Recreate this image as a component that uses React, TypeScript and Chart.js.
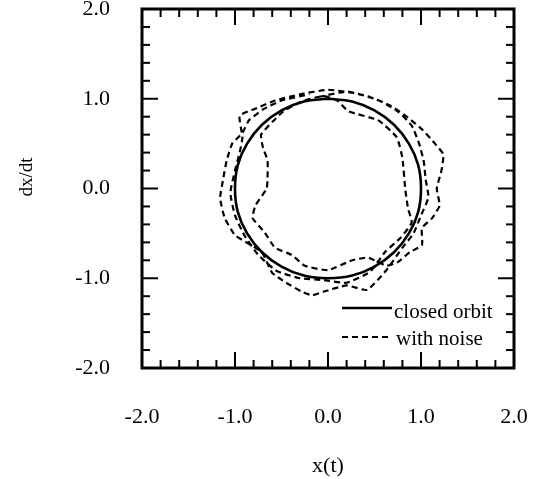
import React, { useEffect, useRef } from "react";
import { Chart, registerables } from "chart.js";
Chart.register(...registerables);

// Closed orbit (solid), clockwise from the top
const orbitX = [0.0, 0.26, 0.5, 0.71, 0.87, 0.97, 1.0, 0.97, 0.87, 0.71, 0.5, 0.26, 0.0, -0.26, -0.5, -0.71, -0.87, -0.97, -1.0, -0.97, -0.87, -0.71, -0.5, -0.26, 0.0];
const orbitY = [1.0, 0.97, 0.87, 0.71, 0.5, 0.26, 0.0, -0.26, -0.5, -0.71, -0.87, -0.97, -1.0, -0.97, -0.87, -0.71, -0.5, -0.26, 0.0, 0.26, 0.5, 0.71, 0.87, 0.97, 1.0];

// Orbit with noise (dashed), three laps
const noiseX = [
  -0.10, 0.20, 0.45, 0.68, 0.86, 1.02, 1.15, 1.24, 1.22, 1.17, 1.20, 1.12, 1.01, 1.01, 0.88, 0.75, 0.63, 0.43, 0.26, 0.00, -0.25, -0.39, -0.57, -0.68, -0.81, -0.78, -0.66, -0.65, -0.65, -0.70, -0.72, -0.60, -0.48, -0.28, -0.05,
  0.10, 0.22, 0.54, 0.74, 0.80, 0.83, 0.86, 0.90, 0.78, 0.62, 0.45, 0.20, -0.05, -0.30, -0.55, -0.75, -0.90, -1.00, -1.05, -1.00, -0.95, -0.92, -0.95, -0.78, -0.57, -0.30, 0.00,
  0.30, 0.55, 0.75, 0.90, 0.98, 1.03, 1.05, 1.08, 1.00, 0.92, 0.80, 0.62, 0.42, 0.20, -0.05, -0.17, -0.28, -0.45, -0.60, -0.71, -0.86, -1.00, -1.11, -1.16, -1.13, -1.09, -1.03, -0.92, -0.85, -0.70, -0.50, -0.20,
];
const noiseY = [
  1.02, 1.08, 1.02, 0.92, 0.79, 0.65, 0.50, 0.38, 0.20, 0.00, -0.19, -0.33, -0.44, -0.63, -0.71, -0.82, -0.86, -0.77, -0.80, -0.91, -0.86, -0.74, -0.66, -0.49, -0.33, -0.19, 0.00, 0.12, 0.31, 0.46, 0.60, 0.74, 0.86, 0.97, 1.03,
  0.98, 0.86, 0.76, 0.57, 0.34, 0.00, -0.22, -0.38, -0.55, -0.70, -0.93, -1.05, -1.02, -1.00, -0.92, -0.74, -0.52, -0.30, -0.05, 0.20, 0.40, 0.57, 0.81, 0.89, 0.98, 1.05, 1.10,
  1.06, 0.98, 0.86, 0.70, 0.50, 0.30, 0.10, -0.10, -0.30, -0.50, -0.66, -0.92, -1.13, -1.08, -1.15, -1.19, -1.15, -1.05, -0.94, -0.71, -0.61, -0.52, -0.33, -0.11, 0.09, 0.31, 0.50, 0.62, 0.76, 0.88, 0.98, 1.05,
];

const axisMin = -2;
const axisMax = 2;
const majorStep = 1;
const minorStep = 0.2;
const seriesLabels = ["closed orbit", "with noise"];
const xTitle = "x(t)";
const yTitle = "dx/dt";

const FONT = "'Liberation Serif', 'Times New Roman', serif";

const toPoints = (xs: number[], ys: number[]) => xs.map((x, i) => ({ x, y: ys[i] }));

const framePlugin = {
  id: "frame",
  afterDatasetsDraw(chart: any) {
    const { ctx, chartArea: a, scales } = chart;
    const xs = scales.x;
    const ys = scales.y;
    ctx.save();
    ctx.strokeStyle = "#000";
    ctx.fillStyle = "#000";
    ctx.setLineDash([]);
    ctx.lineWidth = 2;
    const seg = (x1: number, y1: number, x2: number, y2: number) => {
      ctx.beginPath();
      ctx.moveTo(x1, y1);
      ctx.lineTo(x2, y2);
      ctx.stroke();
    };
    const n = Math.round((axisMax - axisMin) / minorStep);
    const per = Math.round(majorStep / minorStep);
    for (let i = 1; i < n; i++) {
      const v = axisMin + i * minorStep;
      const len = i % per === 0 ? 16 : 8;
      const px = xs.getPixelForValue(v);
      seg(px, a.bottom, px, a.bottom - len);
      seg(px, a.top, px, a.top + len);
      const py = ys.getPixelForValue(v);
      seg(a.left, py, a.left + len, py);
      seg(a.right, py, a.right - len, py);
    }
    ctx.lineWidth = 3;
    ctx.strokeRect(a.left, a.top, a.right - a.left, a.bottom - a.top);

    // legend
    const lx1 = a.left + 200;
    const lx2 = a.left + 250;
    const rows = [a.top + 299, a.top + 328];
    const base = [a.top + 309, a.top + 336];
    ctx.lineWidth = 2.4;
    seg(lx1, rows[0], lx2, rows[0]);
    ctx.setLineDash([6, 4]);
    ctx.lineWidth = 2.2;
    seg(lx1, rows[1], lx2, rows[1]);
    ctx.setLineDash([]);
    ctx.font = `21px ${FONT}`;
    ctx.textAlign = "left";
    ctx.textBaseline = "alphabetic";
    ctx.fillText(seriesLabels[0], lx2 + 2, base[0]);
    ctx.fillText(seriesLabels[1], lx2 + 4, base[1]);

    // y title
    ctx.save();
    ctx.translate(32, 177);
    ctx.rotate(-Math.PI / 2);
    ctx.font = `19px ${FONT}`;
    ctx.textAlign = "center";
    ctx.textBaseline = "alphabetic";
    ctx.fillText(yTitle, 0, 0);
    ctx.restore();
    ctx.restore();
  },
};

export default function App() {
  const ref = useRef<HTMLCanvasElement | null>(null);
  useEffect(() => {
    if (!ref.current) return;
    const chart = new Chart(ref.current, {
      type: "scatter",
      data: {
        datasets: [
          {
            label: seriesLabels[0],
            data: toPoints(orbitX, orbitY),
            showLine: true,
            borderColor: "#000",
            borderWidth: 2.6,
            pointRadius: 0,
            tension: 0.4,
            fill: false,
          },
          {
            label: seriesLabels[1],
            data: toPoints(noiseX, noiseY),
            showLine: true,
            borderColor: "#000",
            borderWidth: 2.2,
            borderDash: [6, 4],
            pointRadius: 0,
            tension: 0.15,
            fill: false,
          },
        ],
      },
      options: {
        responsive: false,
        animation: false,
        layout: { padding: { top: 9, right: 22, left: 0, bottom: 0 } },
        plugins: { legend: { display: false }, tooltip: { enabled: false } },
        scales: {
          x: {
            type: "linear",
            min: axisMin,
            max: axisMax,
            grid: { display: false, drawTicks: false },
            border: { display: false },
            ticks: {
              stepSize: majorStep,
              padding: 36,
              color: "#000",
              font: { family: FONT, size: 22 },
              callback: (v: any) => Number(v).toFixed(1),
            },
            title: {
              display: true,
              text: xTitle,
              color: "#000",
              font: { family: FONT, size: 22 },
              padding: { top: 0, bottom: 0 },
            },
            afterFit: (s: any) => {
              s.height = 111;
              s.paddingLeft = 0;
              s.paddingRight = 0;
            },
          },
          y: {
            type: "linear",
            min: axisMin,
            max: axisMax,
            grid: { display: false, drawTicks: false },
            border: { display: false },
            ticks: {
              stepSize: majorStep,
              padding: 32,
              color: "#000",
              font: { family: FONT, size: 22 },
              callback: (v: any) => Number(v).toFixed(1),
            },
            afterFit: (s: any) => {
              s.width = 142;
              s.paddingTop = 0;
              s.paddingBottom = 0;
            },
          },
        },
      },
      plugins: [framePlugin],
    });
    return () => chart.destroy();
  }, []);
  return (
    <div style={{ position: "absolute", left: 0, top: 0, width: 536, height: 479, background: "#fff" }}>
      <canvas ref={ref} width={536} height={479} />
    </div>
  );
}
